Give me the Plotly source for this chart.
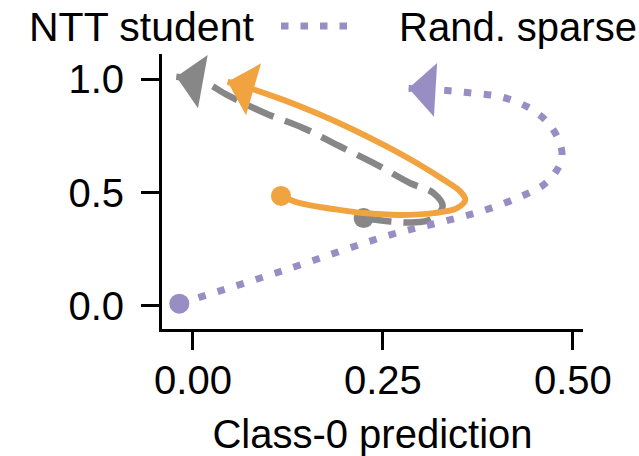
import math
import plotly.graph_objects as go

# ---- data ----
teacher_x = [0.2246, 0.2597, 0.2870, 0.3124, 0.3286, 0.3168, 0.2861, 0.2422, 0.1939, 0.1456, 0.0952, 0.0448, 0.0140, -0.0220]
teacher_y = [0.387, 0.372, 0.368, 0.380, 0.438, 0.497, 0.541, 0.622, 0.703, 0.784, 0.850, 0.931, 0.989, 1.011]

student_x = [0.1158, 0.141, 0.185, 0.2246, 0.273, 0.317, 0.3475, 0.3585, 0.352, 0.330, 0.295, 0.251, 0.207, 0.163, 0.119, 0.0754, 0.0456]
student_y = [0.485, 0.453, 0.427, 0.409, 0.401, 0.409, 0.431, 0.468, 0.504, 0.556, 0.629, 0.710, 0.784, 0.850, 0.909, 0.960, 0.989]

sparse_x = [-0.018, 0.115, 0.2597, 0.3212, 0.3782, 0.4265, 0.4616, 0.4792, 0.4858, 0.4813, 0.4660, 0.4397, 0.4046, 0.3694, 0.3344, 0.2838]
sparse_y = [0.009, 0.151, 0.313, 0.365, 0.416, 0.475, 0.534, 0.600, 0.659, 0.732, 0.813, 0.879, 0.923, 0.938, 0.950, 0.960]

x_ticks = [0.0, 0.25, 0.5]
x_ticktext = ["0.00", "0.25", "0.50"]
y_ticks = [0.0, 0.5, 1.0]
y_ticktext = ["0.0", "0.5", "1.0"]
x_title = "Class-0 prediction"
legend_labels = ["NTT student", "Rand. sparse"]

GREY = "#878787"
ORANGE = "#f1a340"
PURPLE = "#998ec3"
FONT = "Liberation Sans"

W, H = 639, 456
PL, PR, PT, PB = 162, 583, 54, 329
XR = [-0.0408, 0.5134]
YR = [-0.1028, 1.1116]


def px(x):
    return (x - PL) / (PR - PL)


def py(y):
    return (PB - y) / (PB - PT)


def to_pix(x, y):
    return (PL + (x - XR[0]) / (XR[1] - XR[0]) * (PR - PL),
            PB - (y - YR[0]) / (YR[1] - YR[0]) * (PB - PT))


fig = go.Figure()
series = [
    ("NTT teacher", teacher_x, teacher_y, GREY, 6.5, "28px,12px"),
    (legend_labels[0], student_x, student_y, ORANGE, 6, "solid"),
    (legend_labels[1], sparse_x, sparse_y, PURPLE, 7, "7.5px,12.5px"),
]
for name, xs, ys, col, w, dash in series:
    fig.add_trace(go.Scatter(
        x=xs, y=ys, mode="lines", name=name,
        line=dict(color=col, width=w, dash=dash, shape="spline")))
    fig.add_trace(go.Scatter(
        x=xs[:1], y=ys[:1], mode="markers", showlegend=False,
        marker=dict(symbol="circle", size=20, color=col, line=dict(width=0))))
    # arrow head at the end, pointing along the last segment
    x1p, y1p = to_pix(xs[-2], ys[-2])
    x2p, y2p = to_pix(xs[-1], ys[-1])
    d = math.hypot(x2p - x1p, y2p - y1p)
    L = 14
    fig.add_annotation(
        x=xs[-1], y=ys[-1], xref="x", yref="y",
        ax=-(x2p - x1p) / d * L, ay=-(y2p - y1p) / d * L,
        text="", showarrow=True, arrowhead=1, arrowwidth=6, arrowsize=1.5,
        arrowcolor=col, standoff=0)

axis_common = dict(
    showgrid=False, zeroline=False, showline=True, linecolor="black", linewidth=3,
    ticks="outside", ticklen=18, tickwidth=3, tickcolor="black", automargin=False,
    tickfont=dict(family=FONT, size=40, color="black"),
)
fig.update_xaxes(range=XR, tickvals=x_ticks, ticktext=x_ticktext,
                 ticklabelstandoff=-4,
                 title=dict(text=x_title, font=dict(family=FONT, size=40, color="black"), standoff=30),
                 **axis_common)
fig.update_yaxes(range=YR, tickvals=y_ticks, ticktext=y_ticktext,
                 ticklabelstandoff=9, **axis_common)

# legend (cropped at the top of the figure)
fig.add_annotation(xref="paper", yref="paper", x=px(256), y=py(27), xanchor="right", yanchor="middle",
                   text=legend_labels[0], showarrow=False,
                   font=dict(family=FONT, size=41, color="black"))
fig.add_annotation(xref="paper", yref="paper", x=px(397), y=py(27), xanchor="left", yanchor="middle",
                   text=legend_labels[1], showarrow=False,
                   font=dict(family=FONT, size=40, color="black"))
fig.add_shape(type="line", xref="paper", yref="paper", x0=px(281), x1=px(348), y0=py(26), y1=py(26),
              line=dict(color=PURPLE, width=7, dash="7.5px,12px"))

fig.update_layout(
    width=W, height=H, showlegend=False,
    margin=dict(l=PL, r=W - PR, t=PT, b=H - PB, pad=0, autoexpand=False),
    paper_bgcolor="white", plot_bgcolor="white",
    font=dict(family=FONT, size=40, color="black"),
)

fig.write_html("out.html")
